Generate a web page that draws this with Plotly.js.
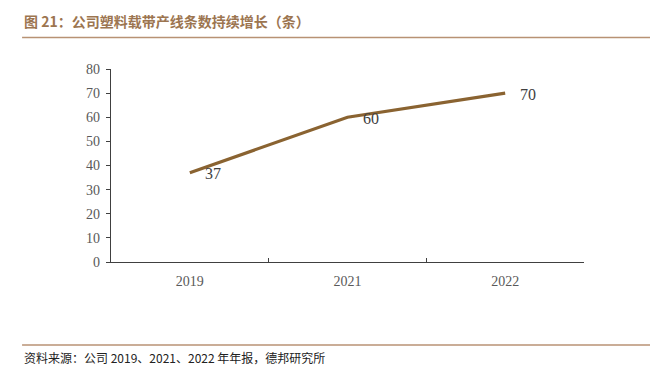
<!DOCTYPE html>
<html><head><meta charset="utf-8">
<script src="https://cdn.plot.ly/plotly-3.0.1.min.js"></script>
<style>html,body{margin:0;padding:0;background:#fff;}#chart{width:650px;height:368px;}</style>
</head><body><div id="chart"></div>
<script>
var years = ['2019', '2021', '2022'];
var lines = [37, 60, 70];
var yTicks = [0, 10, 20, 30, 40, 50, 60, 70, 80];
var titleText = '图 21：公司塑料载带产线条数持续增长（条）';
var sourceText = '资料来源：公司 2019、2021、2022 年年报，德邦研究所';

var trace = {
  x: years, y: lines, type: 'scatter', mode: 'lines',
  line: {color: '#8a6331', width: 3.2}, hoverinfo: 'skip'
};
var ann = years.map(function (yr, i) {
  return {x: i, y: lines[i], xref: 'x', yref: 'y', text: String(lines[i]), showarrow: false,
    xanchor: 'center', yanchor: 'middle', xshift: 23, yshift: -1,
    font: {family: 'Liberation Serif, Times New Roman, serif', size: 16, color: '#404040'}};
});
ann.push({xref: 'paper', yref: 'paper', x: -0.188, y: 1.25, xanchor: 'left', yanchor: 'middle',
  text: '<b>' + titleText + '</b>', showarrow: false,
  font: {family: 'Noto Sans CJK SC, sans-serif', size: 14, color: '#9c7550'}});
ann.push({xref: 'paper', yref: 'paper', x: -0.188, y: -0.497, xanchor: 'left', yanchor: 'middle',
  text: sourceText, showarrow: false,
  font: {family: 'Noto Sans CJK SC, sans-serif', size: 12, color: '#222'}});

var layout = {
  width: 650, height: 368,
  margin: {l: 111, r: 66, t: 69, b: 106},
  paper_bgcolor: '#fff', plot_bgcolor: '#fff',
  showlegend: false,
  xaxis: {type: 'category', range: [-0.5, 2.5], showline: true, linecolor: '#404040', linewidth: 1.3,
    ticks: 'inside', tickson: 'boundaries', ticklen: 4, tickcolor: '#404040', showgrid: false, zeroline: false,
    ticklabelstandoff: 6,
    tickfont: {family: 'Liberation Serif, Times New Roman, serif', size: 14, color: '#595959'}},
  yaxis: {range: [0, 80], tickvals: yTicks, showline: true, linecolor: '#404040', linewidth: 1.3,
    ticks: 'outside', ticklen: 4, tickcolor: '#404040', showgrid: false, zeroline: false,
    ticklabelstandoff: 3,
    tickfont: {family: 'Liberation Serif, Times New Roman, serif', size: 14, color: '#595959'}},
  annotations: ann,
  shapes: [
    {type: 'line', xref: 'paper', yref: 'paper', x0: -0.188, x1: 1.14, y0: 1.163, y1: 1.163,
      line: {color: '#b89274', width: 1.5}},
    {type: 'line', xref: 'paper', yref: 'paper', x0: -0.188, x1: 1.14, y0: -0.43, y1: -0.43,
      line: {color: '#b89274', width: 1.5}}
  ]
};
Plotly.newPlot('chart', [trace], layout, {displayModeBar: false, staticPlot: true});
</script></body></html>
